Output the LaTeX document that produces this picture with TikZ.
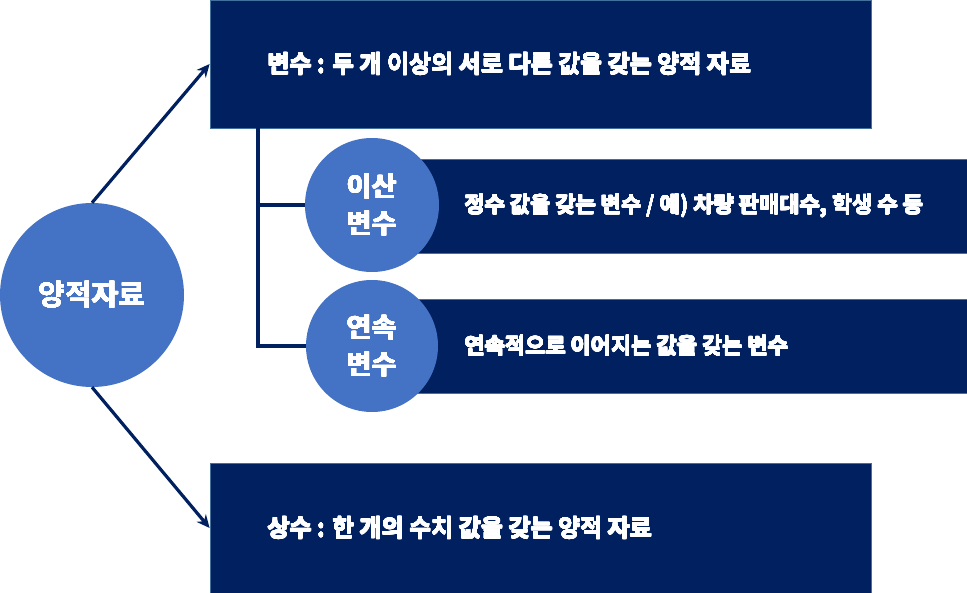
\documentclass[tikz,border=0pt]{standalone}
\usepackage{fontspec}
\setmainfont{Noto Sans CJK KR}[BoldFont={Noto Sans CJK KR Bold}]
\usepackage[copies]{contour}
\contourlength{0.3pt}
\contournumber{16}
\usepackage{tikz}
\usetikzlibrary{arrows.meta,positioning}
\definecolor{navy}{HTML}{002060}
\definecolor{midblue}{HTML}{4472C4}
\definecolor{edgeblue}{HTML}{41719C}
\newcommand{\bt}[1]{\contour{white}{#1}}

\begin{document}
\begin{tikzpicture}[x=1pt,y=-1pt,>={Stealth[length=13pt,width=12pt]},
bx/.style={rectangle,draw=edgeblue,fill=navy,line width=0.8pt,inner sep=0pt},
cir/.style={circle,fill=midblue,text=white,inner sep=0pt,align=center,font=\fontsize{27}{37}\selectfont\bfseries},
txt/.style={text=white,anchor=west,inner sep=0pt,font=\fontsize{24}{28}\selectfont\bfseries},
stxt/.style={txt,font=\fontsize{22}{26}\selectfont\bfseries},
ln/.style={navy,line width=3.2pt}]
\useasboundingbox (0,0) rectangle (967,593);
% boxes
\node[bx,minimum width=661pt,minimum height=128pt] (var) at (540.5,64) {};
\node[bx,minimum width=661pt,minimum height=130pt] (const) at (540.5,528) {};
\node[bx,minimum width=562pt,minimum height=94pt] (dbox) at (686,206) {};
\node[bx,minimum width=562pt,minimum height=94pt] (cbox) at (686,346) {};
% circles
\node[cir,minimum size=184pt,font=\fontsize{29}{37}\selectfont\bfseries] (root) at (92,295) {\bt{양적자료}};
\node[cir,minimum size=134pt] (dcir) at (372,205) {\bt{이산}\\\bt{변수}};
\node[cir,minimum size=132pt] (ccir) at (372,346) {\bt{연속}\\\bt{변수}};
% texts
\node[txt,right=58pt of var.west] (vtxt) {\bt{변수 : 두 개 이상의 서로 다른 값을 갖는 양적 자료}};
\node[txt,right=58pt of const.west] (ctxt) {\bt{상수 : 한 개의 수치 값을 갖는 양적 자료}};
\node[stxt,right=60pt of dbox.west] (dtxt) {\bt{정수 값을 갖는 변수 / 예) 차량 판매대수, 학생 수 등}};
\node[stxt,right=60pt of cbox.west] (ctxt2) {\bt{연속적으로 이어지는 값을 갖는 변수}};
% connectors
\coordinate (brk) at (258,128);
\draw[ln] (brk) |- (ccir);
\draw[ln] (brk |- dcir) -- (dcir);
\draw[ln,->] (root.north) -- (var.west);
\draw[ln,->] (root.south) -- (const.west);
\end{tikzpicture}
\end{document}
